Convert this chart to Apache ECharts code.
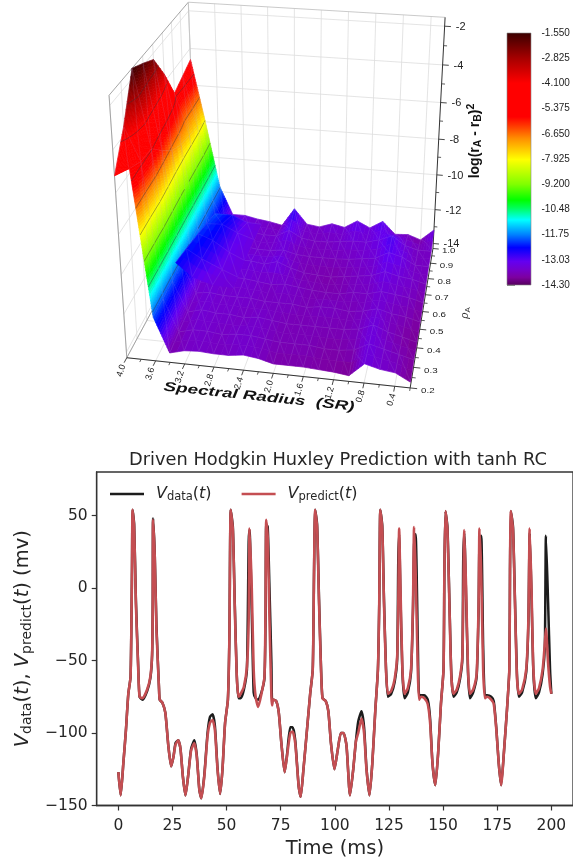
<!DOCTYPE html>
<html><head><meta charset="utf-8">
<style>html,body{margin:0;padding:0;background:#fff;overflow:hidden}#c{width:573px;height:860px}</style>
<script src="https://cdn.jsdelivr.net/npm/echarts@6/dist/echarts.min.js"></script>
</head><body><div id="c"></div>
<script>
// ---------- line chart data ----------
const timeMs=[0,1.07,2.3,3.5,4.6,5.65,6.3,6.57,7.3,8.1,9.2,9.8,11.15,13.3,14.8,15.6,15.9,16.04,16.8,17.6,18.8,19.1,20.3,21.7,23.1,24.4,25.5,26.4,27.65,28.7,29.8,31,32.2,33.6,35.1,36.2,37.4,38.3,39.7,41.2,42.3,43.5,44.6,45.8,47,48.1,49.3,50.6,51.3,51.9,52.9,53.8,54.7,55.5,56.5,58,59.4,60.2,60.6,61.6,62.5,63.4,64.6,66.1,67.5,68,68.3,69,69.8,70.7,71,71.6,72.9,74.1,75.3,76.8,77.9,79.4,80.5,81.7,83.3,84.2,85.5,87,88.6,89.8,90.4,90.9,91.8,92.7,93.6,94.3,95.8,97,98.2,99.8,101.3,102.8,104,105.4,107,108.5,109.7,110.8,112.3,113.5,114.6,116,117.3,118.7,119.9,120.5,121,121.9,122.7,123.6,124.5,126,127.6,128.8,129.3,129.7,130.3,131.2,132.2,133.7,135.2,136.1,136.6,137.3,138.3,138.9,139.8,141.3,142.9,144,145.1,146.4,147.7,149,150.2,150.6,151.1,152,152.9,153.8,154.8,156.3,157.8,158.9,159.3,159.8,160.6,161.5,162.4,163.9,165.5,166.4,166.8,167.6,168.5,169.3,170.3,172.2,173.4,174.6,175.7,176.8,178.3,179.5,180.6,180.9,181.3,182.3,183.2,184.1,185,186.5,188.4,189.4,190,190.8,191.7,192.8,194.3,196,197,197.5,198.5,199.4,200];
const vPredict=[-127,-143,-121,-98,-73,-61,12,54,42,-11,-57,-75,-76,-70,-61,-45,-11,47,22,-29,-70,-77,-79,-86,-109,-123,-116,-108,-105,-111,-130,-143,-130,-112,-107,-116,-139,-145,-130,-102,-93,-91,-98,-125,-142,-125,-93,-77,-33,54,40,-15,-61,-75,-73,-68,-54,-22,41,1,-56,-75,-82,-73,-61,-11,47,35,-22,-75,-81,-77,-78,-86,-107,-127,-116,-100,-99,-107,-137,-144,-125,-100,-73,-56,12,54,42,-11,-56,-76,-78,-85,-107,-125,-112,-100,-100,-109,-143,-125,-106,-100,-90,-100,-125,-143,-121,-84,-56,-11,54,41,-11,-56,-73,-71,-63,-47,-11,41,1,-56,-73,-69,-56,-11,42,12,-56,-77,-75,-76,-80,-93,-121,-136,-114,-80,-56,12,53,40,-11,-61,-73,-70,-61,-47,-11,40,1,-56,-73,-70,-59,-11,41,10,-56,-76,-75,-77,-80,-98,-121,-136,-109,-84,-56,12,53,40,-11,-61,-73,-70,-56,-22,41,1,-56,-73,-69,-56,-38,-28,-52,-68,-73];
const vData=[-127,-143,-121,-98,-73,-61,12,54,44,-8,-55,-75,-77,-71,-62,-46,-8,48,24,-26,-70,-77,-79,-86,-109,-123,-116,-107,-105,-111,-130,-143,-130,-111,-105,-115,-139,-145,-129,-100,-89,-87,-95,-124,-142,-125,-93,-77,-33,54,42,-12,-60,-76,-76,-70,-56,32,40,-15,-72,-76,-77,-72,-62,-20,44,42,0,-52,-77,-77,-78,-86,-107,-127,-115,-96,-96,-105,-137,-144,-125,-100,-73,-56,12,54,44,-8,-54,-76,-78,-85,-107,-125,-112,-100,-100,-109,-143,-125,-106,-92,-85,-96,-124,-143,-121,-84,-56,-11,54,43,-8,-54,-75,-73,-65,-49,20,37,-5,-58,-76,-72,-58,-15,30,37,-35,-74,-74,-74,-77,-90,-121,-136,-114,-80,-56,12,53,42,-8,-59,-75,-72,-63,-49,20,38,-5,-58,-76,-72,-61,-15,32,36,-40,-74,-74,-75,-78,-97,-121,-136,-109,-84,-56,12,53,42,-8,-59,-75,-72,-58,-24,38,-3,-58,-76,-72,-59,-40,36,-10,-56,-73];
const xTicks=[0,25,50,75,100,125,150,175,200];
const yTicks=[-150,-100,-50,0,50];

// ---------- surface data: rho rows, SR columns ----------
const srValues=[4.0,3.8,3.6,3.4,3.2,3.0,2.8,2.6,2.4,2.2,2.0,1.8,1.6,1.4,1.2,1.0,0.8,0.6,0.4,0.2];
const rhoValues=[0.2,0.3,0.4,0.5,0.6,0.7,0.8,0.9,1.0];
const zRho02=[-5.2,-4.8,-12,-13.8,-13.6,-13.55,-13.6,-13.6,-13.5,-13.6,-13.8,-13.8,-13.8,-13.85,-13.9,-14,-13.3,-13.5,-13.6,-14];
const zRho03=[-3.6,-5.2,-12,-13.7,-13.5,-13.5,-13.6,-13.5,-13.5,-13.6,-13.7,-13.7,-13.7,-13.8,-13.8,-13.7,-13.3,-13.5,-13.7,-13.9];
const zRho04=[-1.55,-5.3,-12,-13.6,-13.4,-13.5,-13.5,-13.6,-13.5,-13.6,-13.7,-13.7,-13.7,-13.7,-13.7,-13.6,-13.3,-13.6,-13.8,-14];
const zRho05=[-1.9,-6.1,-11.9,-13.5,-13.4,-13.5,-13.5,-13.5,-13.6,-13.6,-13.6,-13.7,-13.6,-13.6,-13.7,-13.6,-13.4,-13.6,-13.7,-13.9];
const zRho06=[-2.3,-6.8,-11.8,-13.3,-13.3,-13.4,-13.4,-13.5,-13.6,-13.5,-13.6,-13.7,-13.75,-13.75,-13.6,-13.6,-13.4,-13.5,-13.6,-13.8];
const zRho07=[-3.6,-7.2,-11.7,-13.2,-13.2,-13.3,-13.3,-13.4,-13.2,-13.5,-13.7,-13.75,-13.8,-13.7,-13.6,-13.5,-13.2,-13.4,-13.5,-13.7];
const zRho08=[-5.2,-7.4,-11.7,-13.2,-13.3,-13.4,-13.5,-13.5,-13.4,-13.6,-13.65,-13.65,-13.65,-13.6,-13.5,-13.4,-13,-13.2,-13.6,-13.6];
const zRho09=[-4.9,-7.6,-11.7,-13.2,-13.2,-13.4,-13.5,-13.5,-13.1,-13.5,-13.6,-13.6,-13.5,-13.4,-13.4,-13.2,-12.9,-13.4,-13.6,-13.6];
const zRho10=[-4.6,-8,-11.7,-13.3,-13.3,-13.45,-13.55,-13.7,-12.65,-13.5,-13.6,-13.35,-13.5,-13.05,-13.4,-12.95,-13.65,-13.6,-13.85,-13.2];
const zGrid=[zRho02,zRho03,zRho04,zRho05,zRho06,zRho07,zRho08,zRho09,zRho10];
// fold in front of the wall: a small irregular mesh
const foldSr=[[3.75,3.5,3.2,2.9],[3.69,3.45,3.15,2.9],[3.62,3.4,3.15,2.9],[3.56,3.37,3.15,2.9],[3.5,3.3,3.1,2.9]];
const foldRho=[[0.55,0.54,0.54,0.54],[0.63,0.62,0.62,0.6],[0.72,0.72,0.72,0.7],[0.78,0.82,0.84,0.84],[0.84,0.9,0.94,0.96]];
const foldZ=[[-12.4,-13,-13.35,-13.4],[-12.3,-12.7,-13.2,-13.35],[-12.2,-12.5,-13.1,-13.3],[-12.1,-12.4,-13,-13.3],[-12,-12.5,-13.2,-13.4]];

const srTicks=[4.0,3.6,3.2,2.8,2.4,2.0,1.6,1.2,0.8,0.4];
const srMinor=[3.8,3.4,3.0,2.6,2.2,1.8,1.4,1.0,0.6,0.2];
const rhoTicks=[0.2,0.3,0.4,0.5,0.6,0.7,0.8,0.9,1.0];
const zTicks=[-2,-4,-6,-8,-10,-12,-14];
const cbarTicks=[-1.55,-2.825,-4.1,-5.375,-6.65,-7.925,-9.2,-10.475,-11.75,-13.025,-14.3];
const cbarLabels=['-1.550','-2.825','-4.100','-5.375','-6.650','-7.925','-9.200','-10.48','-11.75','-13.03','-14.30'];
const ZMIN=-14.3,ZMAX=-1.55,SMIN=0.2,SMAX=4.0,RMIN=0.2,RMAX=1.0;

// colour ramp
const ramp=[[-14.3,[84,0,90]],[-13.9,[125,0,160]],[-13.5,[115,0,205]],[-13.1,[100,0,240]],[-12.4,[0,0,255]],[-11.75,[0,128,255]],[-11,[0,255,255]],[-10.4,[0,255,90]],[-10,[0,255,0]],[-9.2,[128,255,0]],[-7.95,[255,255,0]],[-6.9,[255,144,0]],[-6.2,[255,50,0]],[-5.8,[255,0,0]],[-4.1,[255,0,0]],[-2.825,[165,0,0]],[-1.55,[58,0,0]]];
function zColor(z){
  if(z<=ramp[0][0]){const c=ramp[0][1];return `rgb(${c})`;}
  for(let i=1;i<ramp.length;i++){if(z<=ramp[i][0]){const a=ramp[i-1],b=ramp[i],t=(z-a[0])/(b[0]-a[0]);
    return `rgb(${a[1].map((v,k)=>Math.round(v+(b[1][k]-v)*t)).join(',')})`;}}
  const c=ramp[ramp.length-1][1];return `rgb(${c})`;
}

// camera: fitted to where the box's corners and ticks sit
const cameraFit=[[4,.2,-14.3,126.7,358.3],[.2,.2,-14.3,410,387.3],[.2,1,-14.3,433.3,248.3],[.2,1,-1.55,445,15.7],[4,1,-1.55,188.3,2.7],[4,.2,-1.55,109.3,95],[.2,1,-6,440.5,104],[.2,.6,-14.3,422.7,311],[2,.2,-14.3,273.3,374],[.2,1,-10,436.8,176],[4,1,-14.3,196.7,226.7]];
const nS=s=>(s-2)/2,nR=r=>(r-.6)/.4,nZ=z=>(z+8)/6.4,nU=x=>(x-280)/150,nV=y=>(y-200)/200;
const cam=(function(){
  const n=11,A=Array.from({length:n},()=>new Array(n+1).fill(0));
  function add(row,b){for(let i=0;i<n;i++){for(let j=0;j<n;j++)A[i][j]+=row[i]*row[j];A[i][n]+=row[i]*b;}}
  cameraFit.forEach(p=>{const S=nS(p[0]),R=nR(p[1]),Z=nZ(p[2]),u=nU(p[3]),v=nV(p[4]);
    add([S,R,Z,1,0,0,0,0,-u*S,-u*R,-u*Z],u);add([0,0,0,0,S,R,Z,1,-v*S,-v*R,-v*Z],v);});
  for(let i=0;i<n;i++){let m=i;for(let k=i+1;k<n;k++)if(Math.abs(A[k][i])>Math.abs(A[m][i]))m=k;
    [A[i],A[m]]=[A[m],A[i]];for(let k=0;k<n;k++){if(k===i)continue;const f=A[k][i]/A[i][i];for(let j=i;j<=n;j++)A[k][j]-=f*A[i][j];}}
  return A.map((r,i)=>r[n]/r[i]);
})();
function project(s,r,z){const S=nS(s),R=nR(r),Z=nZ(z),w=cam[8]*S+cam[9]*R+cam[10]*Z+1;
  return [((cam[0]*S+cam[1]*R+cam[2]*Z+cam[3])/w)*150+280,((cam[4]*S+cam[5]*R+cam[6]*Z+cam[7])/w)*200+200];}

function line(api,a,b,color,w){const p=api.coord(project(a[0],a[1],a[2])),q=api.coord(project(b[0],b[1],b[2]));
  return {type:'line',shape:{x1:p[0],y1:p[1],x2:q[0],y2:q[1]},style:{stroke:color,lineWidth:w},silent:true};}

function renderFrame(params,api){
  const ch=[],g='#dddddd',e='#9c9c9c',k='#333333',F='"Liberation Sans",Arial,sans-serif';
  srTicks.forEach(s=>{ch.push(line(api,[s,1,ZMIN],[s,1,ZMAX],g,.8));ch.push(line(api,[s,RMIN,ZMIN],[s,1,ZMIN],g,.8));});
  rhoTicks.forEach(r=>{ch.push(line(api,[4,r,ZMIN],[4,r,ZMAX],g,.8));ch.push(line(api,[SMIN,r,ZMIN],[4,r,ZMIN],g,.8));});
  zTicks.forEach(z=>{ch.push(line(api,[SMIN,1,z],[4,1,z],g,.8));ch.push(line(api,[4,RMIN,z],[4,1,z],g,.8));});
  ch.push(line(api,[4,RMIN,ZMIN],[4,RMIN,ZMAX],e,.9));
  ch.push(line(api,[4,RMIN,ZMAX],[4,1,ZMAX],e,.9));
  ch.push(line(api,[4,1,ZMAX],[SMIN,1,ZMAX],'#c4c4c4',.9));
  ch.push(line(api,[4,1,ZMAX],[4,1,ZMIN],'#c4c4c4',.9));
  ch.push(line(api,[4,RMIN,ZMIN],[4,1,ZMIN],e,.9));
  // axes
  ch.push(line(api,[4,RMIN,ZMIN],[SMIN,RMIN,ZMIN],k,1));
  ch.push(line(api,[SMIN,RMIN,ZMIN],[SMIN,1,ZMIN],k,1));
  ch.push(line(api,[SMIN,1,ZMIN],[SMIN,1,ZMAX],k,1));
  srTicks.forEach(s=>{
    ch.push(line(api,[s,RMIN,ZMIN],[s,RMIN-.025,ZMIN],k,.9));
    const p=api.coord(project(s,RMIN-.035,ZMIN));
    ch.push({type:'text',x:p[0],y:p[1],rotation:1.27,scaleX:1,style:{text:s.toFixed(1),font:'9px '+F,fill:'#222',align:'right',verticalAlign:'middle'},silent:true});
  });
  srMinor.forEach(s=>ch.push(line(api,[s,RMIN,ZMIN],[s,RMIN-.014,ZMIN],k,.8)));
  rhoTicks.forEach(r=>{
    ch.push(line(api,[SMIN,r,ZMIN],[SMIN-.09,r,ZMIN],k,.9));
    if(r<1)ch.push(line(api,[SMIN,r+.05,ZMIN],[SMIN-.05,r+.05,ZMIN],k,.8));
    const p=api.coord(project(SMIN-.14,r,ZMIN));
    ch.push({type:'text',x:p[0],y:p[1]+2,scaleX:1.3,style:{text:r.toFixed(1),font:'7.5px '+F,fill:'#222',align:'left',verticalAlign:'middle'},silent:true});
  });
  zTicks.forEach(z=>{
    ch.push(line(api,[SMIN,1,z],[SMIN-.09,1,z],k,.9));
    if(z>-14)ch.push(line(api,[SMIN,1,z-1],[SMIN-.05,1,z-1],k,.8));
    const p=api.coord(project(SMIN-.16,1,z));
    ch.push({type:'text',x:p[0],y:p[1],style:{text:String(z),font:'11px '+F,fill:'#222',align:'left',verticalAlign:'middle'},silent:true});
  });
  const lp=api.coord([259,397]);
  ch.push({type:'text',x:lp[0],y:lp[1],rotation:-0.105,scaleX:1.45,style:{text:'Spectral Radius  (SR)',font:'italic bold 13px '+F,fill:'#111',align:'center',verticalAlign:'middle'},silent:true});
  const rp=api.coord([465,313]);
  ch.push({type:'text',x:rp[0],y:rp[1],rotation:Math.PI/2,style:{rich:{a:{font:'italic 11px "DejaVu Serif"',fill:'#333'},b:{font:'8px '+F,fill:'#333',padding:[5,0,0,0]}},text:'{a|ρ}{b|A}',align:'center',verticalAlign:'middle'},silent:true});
  const zp=api.coord([475,141]);
  ch.push({type:'text',x:zp[0],y:zp[1],rotation:Math.PI/2,style:{rich:{a:{font:'bold 14px '+F,fill:'#111'},b:{font:'bold 10.5px '+F,fill:'#111',padding:[7,0,0,0]},c:{font:'bold 10.5px '+F,fill:'#111',padding:[0,0,8,0]}},text:'{a|log(r}{b|A}{a| - r}{b|B}{a|)}{c|2}',align:'center',verticalAlign:'middle'},silent:true});
  return {type:'group',children:ch};
}

// one mesh cell (corners a,b,c,d as [sr,rho,z]), split only for drawing
function meshCell(api,c00,c10,c01,c11,levels){
  const z00=c00[2],z10=c10[2],z01=c01[2],z11=c11[2];
  const ns=Math.max(2,Math.ceil(Math.max(Math.abs(z00-z10),Math.abs(z01-z11))/.14)),nr=Math.max(2,Math.ceil(Math.abs(z00-z01)/.3),Math.ceil(Math.abs(z10-z11)/.3));
  const ch=[],lines=[];
  const mix=(k,a,b)=>c00[k]*(1-a)*(1-b)+c10[k]*a*(1-b)+c01[k]*(1-a)*b+c11[k]*a*b;
  const V=(a,b)=>{const z=mix(2,a,b);return {z,p:api.coord(project(mix(0,a,b),mix(1,a,b),z))};};
  for(let j=0;j<nr;j++)for(let i=0;i<ns;i++){
    const q=[V(i/ns,j/nr),V((i+1)/ns,j/nr),V((i+1)/ns,(j+1)/nr),V(i/ns,(j+1)/nr)];
    const c=zColor((q[0].z+q[1].z+q[2].z+q[3].z)/4);
    ch.push({type:'polygon',shape:{points:q.map(v=>v.p)},style:{fill:c,stroke:c,lineWidth:.7},silent:true});
    levels.forEach(L=>{const pts=[];for(let e=0;e<4;e++){const a=q[e],b=q[(e+1)%4];
        if((a.z-L)*(b.z-L)<0){const t=(L-a.z)/(b.z-a.z);pts.push([a.p[0]+(b.p[0]-a.p[0])*t,a.p[1]+(b.p[1]-a.p[1])*t]);}}
      if(pts.length>=2)lines.push({type:'polyline',shape:{points:pts.slice(0,2)},style:{stroke:'rgba(50,50,60,.62)',lineWidth:.7,fill:null},silent:true});});
  }
  // faint mesh edges and the triangulation's diagonal
  const faint='rgba(175,160,225,.28)';
  const edge=(pts)=>({type:'polyline',shape:{points:pts},style:{stroke:faint,lineWidth:.5,fill:null},silent:true});
  const top=[],left=[],diag=[];
  for(let i=0;i<=ns;i++){top.push(V(i/ns,0).p);diag.push(V(i/ns,i/ns).p);}
  for(let j=0;j<=nr;j++)left.push(V(0,j/nr).p);
  return ch.concat([edge(top),edge(left),edge(diag)],lines);
}
const contourLevels=cbarTicks.slice(1,9);
function renderSurface(params,api){
  const j=api.value(0),i=api.value(1),s0=srValues[i],s1=srValues[i+1],r0=rhoValues[j+1],r1=rhoValues[j];
  return {type:'group',children:meshCell(api,[s0,r0,zGrid[j+1][i]],[s1,r0,zGrid[j+1][i+1]],[s0,r1,zGrid[j][i]],[s1,r1,zGrid[j][i+1]],contourLevels)};
}
function renderFold(params,api){
  const j=api.value(0),i=api.value(1);
  const c=(a,b)=>[foldSr[a][b],foldRho[a][b],foldZ[a][b]];
  return {type:'group',children:meshCell(api,c(j+1,i),c(j+1,i+1),c(j,i),c(j,i+1),contourLevels)};
}
const cells=[];for(let j=rhoValues.length-2;j>=0;j--)for(let i=0;i<srValues.length-1;i++)cells.push([j,i]);
const pCells=[];for(let j=foldZ.length-2;j>=0;j--)for(let i=0;i<foldZ[0].length-1;i++)pCells.push([j,i]);

function renderCbar(params,api){
  const a=api.coord([0,ZMAX]),b=api.coord([1,ZMIN]);
  const stops=ramp.map(r=>({offset:(ZMAX-r[0])/(ZMAX-ZMIN),color:`rgb(${r[1]})`})).reverse();
  return {type:'rect',shape:{x:a[0],y:a[1],width:b[0]-a[0],height:b[1]-a[1]},style:{fill:{type:'linear',x:0,y:0,x2:0,y2:1,colorStops:stops},stroke:'#888',lineWidth:.6},silent:true};
}

const ink='#262626',DV='"DejaVu Sans",sans-serif';
const richLabel={
  i:{fontFamily:DV,fontStyle:'italic',fontSize:16,color:ink},
  n:{fontFamily:DV,fontSize:16,color:ink},
  s:{fontFamily:DV,fontSize:11.5,color:ink,padding:[6,0,0,0]}
};
const richName={
  i:{fontFamily:DV,fontStyle:'italic',fontSize:19.5,color:ink},
  n:{fontFamily:DV,fontSize:19.5,color:ink},
  s:{fontFamily:DV,fontSize:14,color:ink,padding:[8,0,0,0]}
};
const minusLabel=v=>String(v).replace('-','\u2212');
const chart=echarts.init(document.getElementById('c'),null,{renderer:'canvas'});
chart.setOption({
  animation:false,backgroundColor:'#fff',
  title:{text:'Driven Hodgkin Huxley Prediction with tanh RC',left:333,top:446,textAlign:'center',textStyle:{fontFamily:DV,fontWeight:'normal',fontSize:17.8,color:ink}},
  legend:{show:true,left:105,top:481,itemWidth:34,itemHeight:2.6,itemGap:30,icon:'rect',data:[{name:'data'},{name:'predict'}],selectedMode:false,
    formatter:n=>n==='data'?'{i|V}{s|data}{n|(}{i|t}{n|)}':'{i|V}{s|predict}{n|(}{i|t}{n|)}',
    textStyle:{rich:richLabel,padding:[0,0,0,7]}},
  grid:[
    {left:0,top:0,width:573,height:430,show:false},
    {left:96.7,top:472,width:480,height:333.5,show:true,borderColor:'#333',borderWidth:1.3,backgroundColor:'transparent'},
    {left:507,top:33,width:24,height:252,show:false}
  ],
  xAxis:[
    {gridIndex:0,type:'value',min:0,max:573,show:false},
    {gridIndex:1,type:'value',min:-10,max:210,
      axisLine:{onZero:false,lineStyle:{color:'#333',width:1.3}},splitLine:{show:false},
      axisTick:{length:5,lineStyle:{color:'#333',width:1.2},customValues:xTicks},
      axisLabel:{customValues:xTicks,fontFamily:DV,fontSize:15.5,color:ink,margin:12},
      name:'Time (ms)',nameLocation:'middle',nameGap:33,nameTextStyle:{fontFamily:DV,fontSize:19.5,color:ink}},
    {gridIndex:2,type:'value',min:0,max:1,show:false}
  ],
  yAxis:[
    {gridIndex:0,type:'value',min:0,max:430,inverse:true,show:false},
    {gridIndex:1,type:'value',min:-150,max:80,
      axisLine:{onZero:false,lineStyle:{color:'#333',width:1.3}},splitLine:{show:false},
      axisTick:{length:5,lineStyle:{color:'#333',width:1.2},customValues:yTicks},
      axisLabel:{customValues:yTicks,fontFamily:DV,fontSize:15.5,color:ink,margin:9,formatter:minusLabel},
      name:'{i|V}{s|data}{n|(}{i|t}{n|), }{i|V}{s|predict}{n|(}{i|t}{n|) (mv)}',nameLocation:'middle',nameRotate:90,nameGap:61,
      nameTextStyle:{rich:richName}},
    {gridIndex:2,type:'value',min:ZMIN,max:ZMAX,position:'right',
      axisLine:{show:false},splitLine:{show:false},
      axisTick:{length:8,lineStyle:{color:'#888',width:1},customValues:cbarTicks},
      axisLabel:{customValues:cbarTicks,fontFamily:'"Liberation Sans",Arial,sans-serif',fontSize:10,color:'#222',margin:10.5,
        formatter:v=>cbarLabels[cbarTicks.findIndex(t=>Math.abs(t-v)<.001)]||''}}
  ],
  series:[
    {type:'custom',name:'frame',coordinateSystem:'cartesian2d',xAxisIndex:0,yAxisIndex:0,data:[[0,0]],renderItem:renderFrame,clip:false,silent:true,z:1},
    {type:'custom',name:'surface',coordinateSystem:'cartesian2d',xAxisIndex:0,yAxisIndex:0,data:cells,renderItem:renderSurface,clip:false,silent:true,z:2,progressive:0,encode:{x:0,y:1}},
    {type:'custom',name:'fold',coordinateSystem:'cartesian2d',xAxisIndex:0,yAxisIndex:0,data:pCells,renderItem:renderFold,clip:false,silent:true,z:3,progressive:0,encode:{x:0,y:1}},
    {type:'custom',name:'colorbar',coordinateSystem:'cartesian2d',xAxisIndex:2,yAxisIndex:2,data:[[0,ZMIN]],renderItem:renderCbar,silent:true,z:2},
    {type:'line',name:'data',xAxisIndex:1,yAxisIndex:1,data:timeMs.map((t,i)=>[t,vData[i]]),showSymbol:false,symbol:'none',smooth:0.2,lineStyle:{color:'#1c1c1c',width:2.5},itemStyle:{color:'#1c1c1c'},z:4,silent:true,clip:true},
    {type:'line',name:'predict',xAxisIndex:1,yAxisIndex:1,data:timeMs.map((t,i)=>[t,vPredict[i]]),showSymbol:false,symbol:'none',smooth:0.2,lineStyle:{color:'#c44e52',width:2.6},itemStyle:{color:'#c44e52'},z:5,silent:true,clip:true}
  ]
});
</script></body></html>
